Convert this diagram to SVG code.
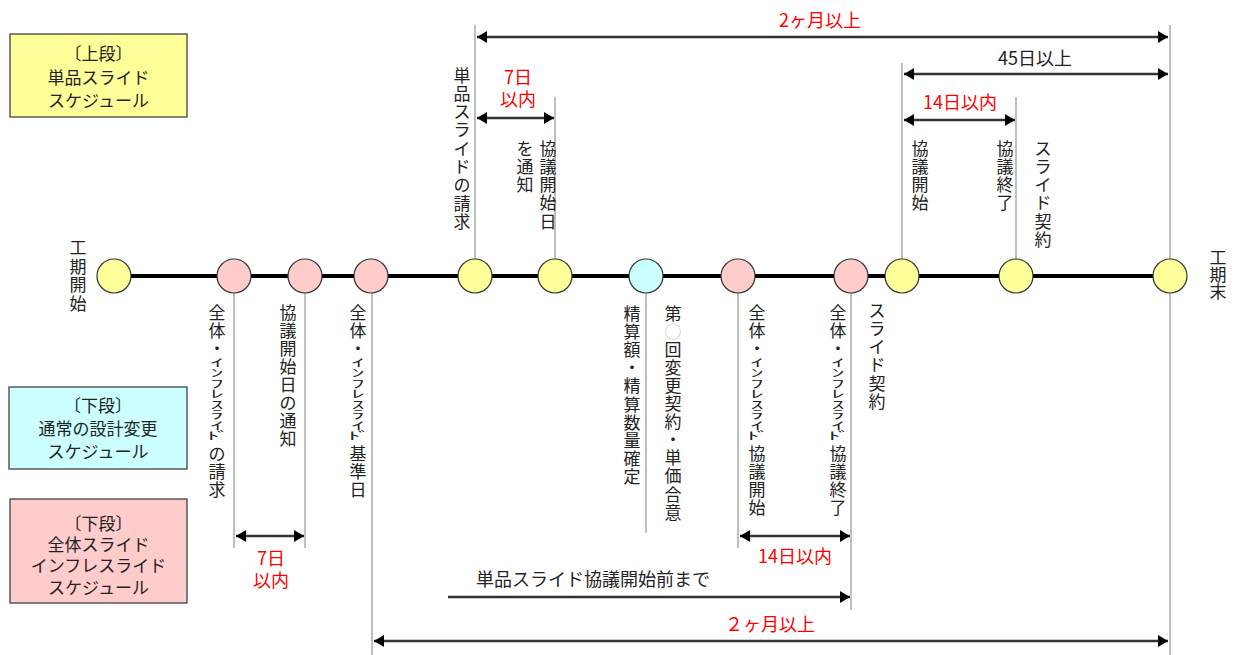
<svg xmlns="http://www.w3.org/2000/svg" width="1239" height="655" viewBox="0 0 1239 655">
<style>
text{font-family:"Noto Sans CJK JP","Noto Sans",sans-serif;dominant-baseline:central;text-anchor:middle;fill:#222}
.v{font-size:17px}
.hw{font-size:26px}
.lg{font-size:17px}
.red{fill:#ff0000;font-size:18px}
.blk{font-size:18px}
.yl{fill:#ffff99;stroke:#333;stroke-width:1.2}
.pk{fill:#ffcccc;stroke:#333;stroke-width:1.2}
.cy{fill:#ccffff;stroke:#333;stroke-width:1.2}
.grid{stroke:#aaa;stroke-width:1.5;fill:none}
.arr{stroke:#333;stroke-width:2.5;fill:none}
.box{stroke:#333;stroke-width:1.2}
</style>
<defs>
<marker id="ah" viewBox="0 0 10 12" refX="10" refY="6" markerWidth="10" markerHeight="12" markerUnits="userSpaceOnUse" orient="auto-start-reverse">
<path d="M0,0 L10,6 L0,12 z" fill="#000"/>
</marker>
</defs>

<g id="legend-upper">
<rect class="box" x="10" y="34" width="177" height="83" fill="#ffff99"/>
<text class="lg" x="98.5" y="52">〔上段〕</text>
<text class="lg" x="98.5" y="76">単品スライド</text>
<text class="lg" x="98.5" y="99">スケジュール</text>
</g>
<g id="legend-normal">
<rect class="box" x="9" y="387" width="178" height="82" fill="#ccffff"/>
<text class="lg" x="98" y="404">〔下段〕</text>
<text class="lg" x="98" y="427">通常の設計変更</text>
<text class="lg" x="98" y="450">スケジュール</text>
</g>
<g id="legend-lower">
<rect class="box" x="10" y="499" width="177" height="104" fill="#ffcccc"/>
<text class="lg" x="98.5" y="522">〔下段〕</text>
<text class="lg" x="98.5" y="543">全体スライド</text>
<text class="lg" x="98.5" y="564">インフレスライド</text>
<text class="lg" x="98.5" y="586">スケジュール</text>
</g>

<g id="connectors">
<line x1="114" y1="276" x2="1170" y2="276" stroke="#000" stroke-width="4"/>
<line class="grid" x1="475" y1="25" x2="475" y2="259"/>
<line class="grid" x1="555" y1="97" x2="555" y2="259"/>
<line class="grid" x1="902" y1="63" x2="902" y2="259"/>
<line class="grid" x1="1016" y1="97" x2="1016" y2="259"/>
<line class="grid" x1="1170" y1="25" x2="1170" y2="655"/>
<line class="grid" x1="234" y1="293" x2="234" y2="548"/>
<line class="grid" x1="305" y1="293" x2="305" y2="548"/>
<line class="grid" x1="372" y1="293" x2="372" y2="655"/>
<line class="grid" x1="646" y1="293" x2="646" y2="533"/>
<line class="grid" x1="738" y1="293" x2="738" y2="548"/>
<line class="grid" x1="851" y1="293" x2="851" y2="610"/>
<line class="arr" x1="477" y1="37" x2="1168" y2="37" marker-start="url(#ah)" marker-end="url(#ah)"/>
<line class="arr" x1="904" y1="74" x2="1168" y2="74" marker-start="url(#ah)" marker-end="url(#ah)"/>
<line class="arr" x1="904" y1="120" x2="1015" y2="120" marker-start="url(#ah)" marker-end="url(#ah)"/>
<line class="arr" x1="477" y1="118" x2="554" y2="118" marker-start="url(#ah)" marker-end="url(#ah)"/>
<line class="arr" x1="236" y1="536" x2="304" y2="536" marker-start="url(#ah)" marker-end="url(#ah)"/>
<line class="arr" x1="740" y1="536" x2="850" y2="536" marker-start="url(#ah)" marker-end="url(#ah)"/>
<line class="arr" x1="448" y1="597" x2="850" y2="597" marker-end="url(#ah)"/>
<line class="arr" x1="374" y1="641" x2="1168" y2="641" marker-start="url(#ah)" marker-end="url(#ah)"/>
</g>

<g id="span-labels">
<text class="red" x="820" y="19">2ヶ月以上</text>
<text class="blk" x="1035" y="57">45日以上</text>
<text class="red" x="960" y="101">14日以内</text>
<text class="red" x="518" y="76">7日</text>
<text class="red" x="518" y="98">以内</text>
<text class="red" x="271" y="557">7日</text>
<text class="red" x="271" y="579">以内</text>
<text class="red" x="795" y="555">14日以内</text>
<text class="blk" x="593" y="578">単品スライド協議開始前まで</text>
<text class="red" x="770" y="623">２ヶ月以上</text>
</g>

<g id="n1-start">
<circle class="yl" cx="114" cy="276" r="17"/>
<text class="v" x="78 78 78 78" y="246.4 265.1 283.9 302.6">工期開始</text>
</g>
<g id="n2-request">
<circle class="pk" cx="234" cy="276" r="17"/>
<text class="v" x="217 217 217" y="311 329 347">全体・</text>
<text class="hw" transform="scale(1,0.42)" x="217 217 217 217 217 217 217 213 223" y="862 887 912 937 962 987 1012 1037 1037">ｲﾝﾌﾚｽﾗｲﾄﾞ</text>
<text class="v" x="217 217 217" y="452 470 488">の請求</text>
</g>
<g id="n3-notice">
<circle class="pk" cx="305" cy="276" r="17"/>
<text class="v" x="288 288 288 288 288 288 288 288" y="311 329.1 347.2 365.3 383.4 401.5 419.6 437.7">協議開始日の通知</text>
</g>
<g id="n4-base">
<circle class="pk" cx="371" cy="276" r="17"/>
<text class="v" x="358 358 358" y="311 329 347">全体・</text>
<text class="hw" transform="scale(1,0.42)" x="358 358 358 358 358 358 358 354 364" y="862 887 912 937 962 987 1012 1037 1037">ｲﾝﾌﾚｽﾗｲﾄﾞ</text>
<text class="v" x="358 358 358" y="452 470 488">基準日</text>
</g>
<g id="n5-single-request">
<circle class="yl" cx="475" cy="276" r="17"/>
<text class="v" x="462 462 462 462 462 462 462 462 462" y="74 92.3 110.6 128.9 147.2 165.5 183.8 202.1 220.4">単品スライドの請求</text>
</g>
<g id="n6-single-notice">
<circle class="yl" cx="555" cy="276" r="17"/>
<text class="v" x="548 548 548 548 548" y="147 165.3 183.6 201.9 220.2">協議開始日</text>
<text class="v" x="525 525 525" y="147 165.3 183.6">を通知</text>
</g>
<g id="n7-settle">
<circle class="cy" cx="646" cy="276" r="17"/>
<text class="v" x="632 632 632 632 632 632 632 632 632 632" y="312 330.2 348.4 366.6 384.8 403 421.2 439.4 457.6 475.8">精算額・精算数量確定</text>
<text class="v" x="673 673 673 673 673 673 673 673 673 673 673 673" y="312 330.1 348.2 366.3 384.4 402.5 420.6 438.7 456.8 474.9 493 511.1">第<tspan fill="#c8c8c8">○</tspan>回変更契約・単価合意</text>
</g>
<g id="n8-all-start">
<circle class="pk" cx="738" cy="276" r="17"/>
<text class="v" x="757 757 757" y="311 329 347">全体・</text>
<text class="hw" transform="scale(1,0.42)" x="757 757 757 757 757 757 757 753 763" y="862 887 912 937 962 987 1012 1037 1037">ｲﾝﾌﾚｽﾗｲﾄﾞ</text>
<text class="v" x="757 757 757 757" y="452 470 488 506">協議開始</text>
</g>
<g id="n9-all-end">
<circle class="pk" cx="851" cy="276" r="17"/>
<text class="v" x="838 838 838" y="311 329 347">全体・</text>
<text class="hw" transform="scale(1,0.42)" x="838 838 838 838 838 838 838 834 844" y="862 887 912 937 962 987 1012 1037 1037">ｲﾝﾌﾚｽﾗｲﾄﾞ</text>
<text class="v" x="838 838 838 838" y="452 470 488 506">協議終了</text>
<text class="v" x="877 877 877 877 877 877" y="309 327.3 345.6 363.9 382.2 400.5">スライド契約</text>
</g>
<g id="n10-single-start">
<circle class="yl" cx="902" cy="276" r="17"/>
<text class="v" x="920 920 920 920" y="147 165.3 183.6 201.9">協議開始</text>
</g>
<g id="n11-single-end">
<circle class="yl" cx="1016" cy="276" r="17"/>
<text class="v" x="1005 1005 1005 1005" y="147 165.3 183.6 201.9">協議終了</text>
<text class="v" x="1043 1043 1043 1043 1043 1043" y="147 165.3 183.6 201.9 220.2 238.5">スライド契約</text>
</g>
<g id="n12-end">
<circle class="yl" cx="1170" cy="276" r="17"/>
<text class="v" x="1218 1218 1218" y="256 273 290">工期末</text>
</g>
</svg>
